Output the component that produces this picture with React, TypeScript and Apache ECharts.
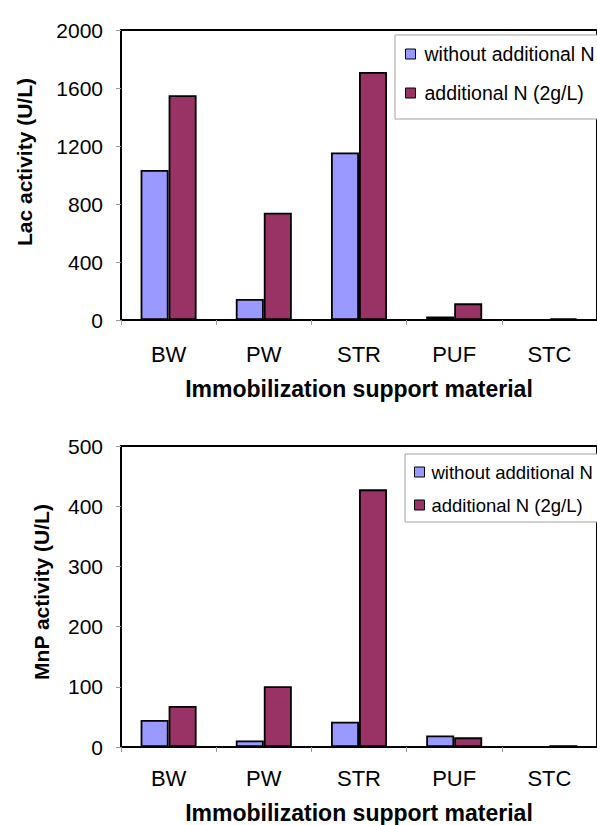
import React, { useEffect, useRef } from "react";
import * as echarts from "echarts";

const categories = ["BW", "PW", "STR", "PUF", "STC"];
const seriesNames = ["without additional N", "additional N (2g/L)"];
const lacWithout = [1035, 145, 1155, 25, 0];
const lacAdditional = [1550, 740, 1710, 115, 12];
const mnpWithout = [45, 11, 42, 19, 0];
const mnpAdditional = [68, 101, 428, 16, 3];
const lacTicks = { min: 0, max: 2000, interval: 400 };
const mnpTicks = { min: 0, max: 500, interval: 100 };
const xTitle = "Immobilization support material";
const lacTitle = "Lac activity (U/L)";
const mnpTitle = "MnP activity (U/L)";

const FONT = "Liberation Sans, Arial, sans-serif";
const BLUE = "#9999FF";
const RED = "#993366";

export default function App() {
  const ref = useRef<HTMLDivElement>(null);
  useEffect(() => {
    if (!ref.current) return;
    const chart = echarts.init(ref.current, undefined, { renderer: "svg" });
    const xAxisBase = (gridIndex: number, margin: number, nameGap: number) => ({
      type: "category",
      gridIndex,
      data: categories,
      boundaryGap: true,
      axisLine: { show: true, lineStyle: { color: "#000", width: 2 } },
      axisTick: { show: true, length: 5, lineStyle: { color: "#999", width: 1 } },
      axisLabel: { fontSize: 22, fontFamily: FONT, color: "#000", margin },
      name: xTitle,
      nameLocation: "middle",
      nameGap,
      nameTextStyle: { fontSize: 23, fontWeight: "bold", fontFamily: FONT, color: "#000" },
    });
    const yAxisBase = (gridIndex: number, t: { min: number; max: number; interval: number }) => ({
      type: "value",
      gridIndex,
      min: t.min,
      max: t.max,
      interval: t.interval,
      axisLine: { show: true, lineStyle: { color: "#000", width: 2 } },
      axisTick: { show: true, length: 5, lineStyle: { color: "#999", width: 1 } },
      axisLabel: { fontSize: 21, fontFamily: FONT, color: "#000", margin: 18, formatter: (v: number) => String(v) },
      splitLine: { show: false },
    });
    const barSeries = (name: string, data: number[], color: string, idx: number) => ({
      type: "bar",
      name,
      data,
      xAxisIndex: idx,
      yAxisIndex: idx,
      barWidth: 28,
      barGap: "0%",
      itemStyle: { color, borderColor: "#000", borderWidth: 1.8 },
    });
    const legendBase = {
      orient: "vertical",
      icon: "rect",
      itemWidth: 10,
      itemHeight: 10,
      borderColor: "#a0a0a0",
      borderWidth: 1,
      backgroundColor: "#fff",
      data: seriesNames,
      itemStyle: { borderColor: "#000", borderWidth: 1 },
    };
    chart.setOption({
      animation: false,
      backgroundColor: "#fff",
      grid: [
        { left: 121, top: 30, width: 482.5, height: 290, show: true, borderColor: "#000", borderWidth: 2, backgroundColor: "transparent" },
        { left: 121, top: 446, width: 482.5, height: 304, show: true, borderColor: "#000", borderWidth: 2, backgroundColor: "transparent" },
      ],
      xAxis: [xAxisBase(0, 23, 57), xAxisBase(1, 20, 54)],
      yAxis: [yAxisBase(0, lacTicks), yAxisBase(1, mnpTicks)],
      legend: [
        {
          ...legendBase,
          left: 395,
          top: 35,
          padding: [8, 40, 15, 10],
          itemGap: 17,
          textStyle: { fontSize: 19.5, fontFamily: FONT, color: "#000", lineHeight: 22, padding: [0, 0, 0, 4] },
        },
        {
          ...legendBase,
          left: 405,
          top: 454,
          padding: [8, 40, 7, 9],
          itemGap: 13,
          textStyle: { fontSize: 18.5, fontFamily: FONT, color: "#000", lineHeight: 20, padding: [0, 0, 0, 2] },
        },
      ],
      graphic: [
        {
          type: "text",
          x: 24,
          y: 162,
          rotation: Math.PI / 2,
          style: { text: lacTitle, fontSize: 21, fontWeight: "bold", fontFamily: FONT, fill: "#000", align: "center", verticalAlign: "middle" },
        },
        {
          type: "text",
          x: 41,
          y: 592,
          rotation: Math.PI / 2,
          style: { text: mnpTitle, fontSize: 21, fontWeight: "bold", fontFamily: FONT, fill: "#000", align: "center", verticalAlign: "middle" },
        },
      ],
      series: [
        barSeries(seriesNames[0], lacWithout, BLUE, 0),
        barSeries(seriesNames[1], lacAdditional, RED, 0),
        barSeries(seriesNames[0], mnpWithout, BLUE, 1),
        barSeries(seriesNames[1], mnpAdditional, RED, 1),
      ],
    });
    return () => chart.dispose();
  }, []);
  return <div ref={ref} style={{ position: "absolute", left: 0, top: 0, width: 597, height: 825 }} />;
}
